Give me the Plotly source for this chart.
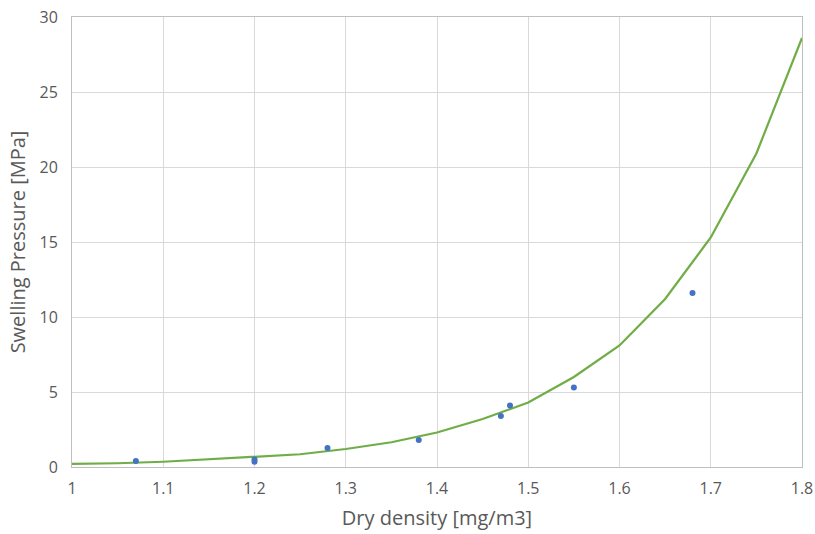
import plotly.graph_objects as go

# Fitted curve (line)
curve_x = [1.0, 1.05, 1.1, 1.15, 1.2, 1.25, 1.3, 1.35, 1.4, 1.45, 1.5, 1.55, 1.6, 1.65, 1.7, 1.75, 1.8]
curve_y = [0.2, 0.25, 0.35, 0.5, 0.65, 0.85, 1.2, 1.65, 2.3, 3.2, 4.3, 6.0, 8.1, 11.2, 15.3, 20.9, 28.6]

# Measured points
meas_x = [1.07, 1.2, 1.2, 1.28, 1.38, 1.47, 1.48, 1.55, 1.68]
meas_y = [0.4, 0.5, 0.35, 1.27, 1.8, 3.4, 4.1, 5.3, 11.6]

x_ticks = [1, 1.1, 1.2, 1.3, 1.4, 1.5, 1.6, 1.7, 1.8]
x_tick_labels = ["1", "1.1", "1.2", "1.3", "1.4", "1.5", "1.6", "1.7", "1.8"]
y_ticks = [0, 5, 10, 15, 20, 25, 30]

fig = go.Figure()
fig.add_trace(go.Scatter(x=curve_x, y=curve_y, mode="lines",
                         line=dict(color="#70AD47", width=2.25), showlegend=False))
fig.add_trace(go.Scatter(x=meas_x, y=meas_y, mode="markers",
                         marker=dict(color="#4472C4", size=6), showlegend=False))

font_family = "Open Sans, Liberation Sans, sans-serif"
fig.update_layout(
    width=815, height=534,
    margin=dict(l=72, r=13, t=17, b=67),
    paper_bgcolor="white", plot_bgcolor="white",
    font=dict(family=font_family, color="#595959", size=16),
    xaxis=dict(range=[1, 1.8], tickvals=x_ticks, ticktext=x_tick_labels,
               showgrid=True, gridcolor="#D9D9D9", gridwidth=1,
               showline=True, linecolor="#BFBFBF", linewidth=1, mirror=True,
               zeroline=False, ticks="outside", ticklen=7, tickcolor="rgba(0,0,0,0)", automargin=False,
               tickfont=dict(size=16, color="#595959"),
               title=dict(text="Dry density [mg/m3]", font=dict(size=20, color="#595959"), standoff=12)),
    yaxis=dict(range=[0, 30], tickvals=y_ticks,
               showgrid=True, gridcolor="#D9D9D9", gridwidth=1,
               showline=True, linecolor="#BFBFBF", linewidth=1, mirror=True,
               zeroline=False, ticks="outside", ticklen=10, tickcolor="rgba(0,0,0,0)", automargin=False,
               tickfont=dict(size=16, color="#595959"),
               title=dict(text="Swelling Pressure [MPa]", font=dict(size=20, color="#595959"), standoff=8)),
)
fig.write_html("out.html", config={"displayModeBar": False},
               post_script="document.body.style.margin='0';document.body.style.padding='0';")
